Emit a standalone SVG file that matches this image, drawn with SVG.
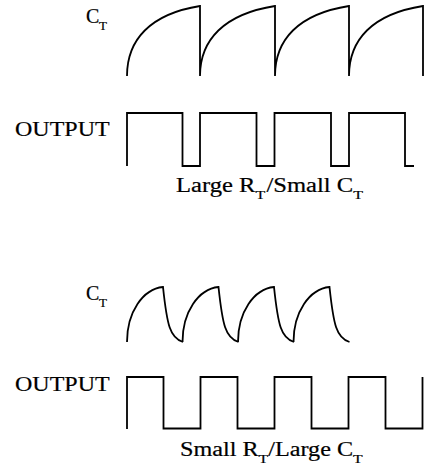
<svg xmlns="http://www.w3.org/2000/svg" width="431" height="473" viewBox="0 0 431 473">
<style>
.w{fill:none;stroke:#000;stroke-width:1.8;stroke-linejoin:miter}
.t{font-family:"Liberation Serif","Times New Roman",serif;font-size:20px;fill:#000;stroke:#000;stroke-width:0.2}
.s{font-size:13px}
</style>
<rect width="431" height="473" fill="#fff"/>
<g id="labels-top">
<text class="t" x="86" y="22.5" font-size="19">C<tspan class="s" x="99" y="29.5">T</tspan></text>
<text class="t" transform="translate(15,136) scale(1.2,1)">OUTPUT</text>
<text class="t" transform="translate(176,192) scale(1.23,1)">Large R<tspan class="s" dy="7">T</tspan><tspan dx="1" dy="-7">/Small C</tspan><tspan class="s" dy="7">T</tspan></text>
</g>
<g id="ct-top">
<path class="w" d="M127,76 C127,40 150,14 200,6 V76 C200,40 224,14 275,6 V76 C275,40 298,14 349,6 V76 C349,40 372,14 423,6 V76"/>
</g>
<g id="output-top">
<path class="w" d="M127,166 V113 H182.5 V166 H200 V113 H256.5 V166 H274.5 V113 H331 V166 H349 V113 H405 V166 H414"/>
</g>
<g id="labels-bottom">
<text class="t" x="86" y="300" font-size="19">C<tspan class="s" x="99" y="307">T</tspan></text>
<text class="t" transform="translate(15,391) scale(1.2,1)">OUTPUT</text>
<text class="t" transform="translate(180,456) scale(1.21,1)">Small R<tspan class="s" dy="7">T</tspan><tspan dy="-7">/Large C</tspan><tspan class="s" dy="7">T</tspan></text>
</g>
<g id="ct-bottom">
<path class="w" d="M127,342 C127,312 143,289 163,287 C167,325 170,338 183,342"/>
<path class="w" transform="translate(55.5,0)" d="M127,342 C127,312 143,289 163,287 C167,325 170,338 183,342"/>
<path class="w" transform="translate(111,0)" d="M127,342 C127,312 143,289 163,287 C167,325 170,338 183,342"/>
<path class="w" transform="translate(166.5,0)" d="M127,342 C127,312 143,289 163,287 C167,325 170,338 183,342"/>
</g>
<g id="output-bottom">
<path class="w" d="M127,429 V377 H163.5 V428.5 H200.5 V377 H237.5 V428.5 H274.5 V377 H311.5 V428.5 H348.5 V377 H385.5 V428.5 H422.5 V377"/>
</g>
</svg>
